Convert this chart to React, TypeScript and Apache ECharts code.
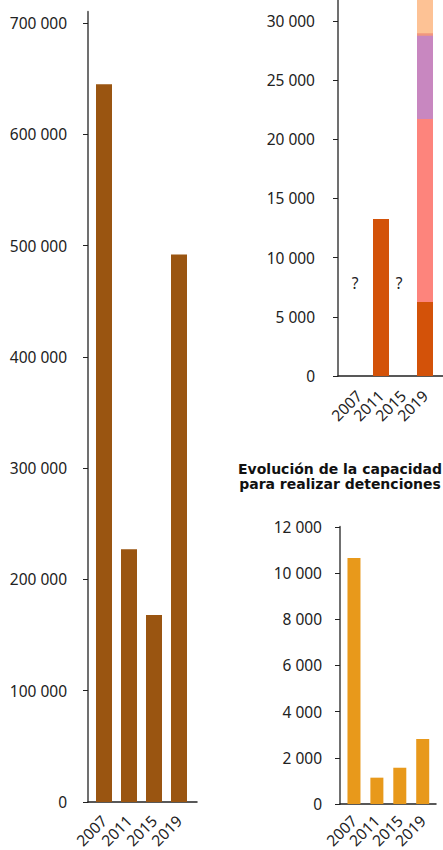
import React, { useEffect, useRef } from 'react';
import * as echarts from 'echarts';

// ---- data ----
const years = ['2007', '2011', '2015', '2019'];
const yearIndex = [0, 1, 2, 3];

// left panel
const leftValues = [645000, 227000, 168000, 492000];
const leftTicks = [0, 100000, 200000, 300000, 400000, 500000, 600000, 700000];

// top-right panel (stacked segments, bottom to top)
const segDark = [0, 13250, 0, 6250];
const segSalmon = [0, 0, 0, 15450];
const segPurple = [0, 0, 0, 7040];
const segThin = [0, 0, 0, 200];
const segPeach = [0, 0, 0, 3500];
const stackTicks = [0, 5000, 10000, 15000, 20000, 25000, 30000];
const unknownIdx = [0, 2];
const unknownLabel = '?';
const unknownY = 7850;

// bottom-right panel
const detentionTitle = 'Evolución de la capacidad\npara realizar detenciones';
const detentionValues = [10650, 1140, 1570, 2810];
const detentionTicks = [0, 2000, 4000, 6000, 8000, 10000, 12000];

// ---- styles ----
const FONT = "'Noto Sans', 'Open Sans', sans-serif";
const TITLE_FONT = "'DejaVu Sans', Verdana, sans-serif";
const TXT = '#222';
const segColors = ['#D35209', '#FD847C', '#C887C0', '#F1977F', '#FDC295'];

const fmt = (v: number) => String(Math.round(v)).replace(/\B(?=(\d{3})+(?!\d))/g, ' ');

function xAxisCfg(
  gridIndex: number,
  min: number,
  max: number,
  labelIdx: number[],
  margin: number,
  showLine = true
) {
  return {
    type: 'value',
    gridIndex,
    min,
    max,
    axisLine: { show: showLine, onZero: false, lineStyle: { color: '#222', width: 1.5 } },
    axisTick: { show: false },
    splitLine: { show: false },
    axisLabel: {
      customValues: labelIdx,
      formatter: (v: number) => years[Math.round(v)] ?? '',
      rotate: 45,
      margin,
      color: TXT,
      fontSize: 15.5,
      fontFamily: FONT,
      hideOverlap: false,
      showMinLabel: true,
      showMaxLabel: true,
    },
  };
}

function yAxisCfg(gridIndex: number, max: number, margin: number, ticks: number[]) {
  return {
    type: 'value',
    gridIndex,
    min: 0,
    max,
    axisLine: { show: true, onZero: false, lineStyle: { color: '#707070', width: 2 } },
    axisTick: { show: true, length: 5, customValues: ticks, lineStyle: { color: '#222', width: 1 } },
    splitLine: { show: false },
    axisLabel: {
      customValues: ticks,
      color: TXT,
      fontSize: 15.5,
      fontFamily: FONT,
      margin,
      formatter: (v: number) => fmt(v),
    },
  };
}

export default function App() {
  const ref = useRef<HTMLDivElement>(null);

  useEffect(() => {
    if (!ref.current) return;
    const chart = echarts.init(ref.current, undefined, { renderer: 'svg' });

    const segs = [segDark, segSalmon, segPurple, segThin, segPeach];
    const cum = segs.map((_, k) =>
      yearIndex.map((i) => segs.slice(0, k + 1).reduce((s, a) => s + a[i], 0))
    );

    const stackSeries: any[] = [];
    for (let k = segs.length - 1; k >= 0; k--) {
      stackSeries.push({
        type: 'bar',
        xAxisIndex: 1,
        yAxisIndex: 1,
        barWidth: 16,
        barGap: '-100%',
        itemStyle: { color: segColors[k] },
        data: yearIndex.map((i) => [i, k > 0 && segs[k][i] === 0 ? null : cum[k][i]]),
        ...(k === 0
          ? {
              markPoint: {
                symbol: 'circle',
                symbolSize: 0,
                label: {
                  show: true,
                  formatter: unknownLabel,
                  color: TXT,
                  fontSize: 15.5,
                  fontFamily: FONT,
                  position: 'inside',
                  offset: [-4, 0],
                },
                data: unknownIdx.map((i) => ({ coord: [i, unknownY] })),
              },
            }
          : {}),
      });
    }

    const gridBase = { outerBoundsMode: 'none', containLabel: false };
    const evenIdx = yearIndex.filter((i) => i % 2 === 0);
    const oddIdx = yearIndex.filter((i) => i % 2 === 1);

    chart.setOption({
      animation: false,
      grid: [
        { ...gridBase, left: 88, top: 11.8, width: 109, height: 790.2 },
        { ...gridBase, left: 338, top: -38.4, width: 106.8, height: 414.4 },
        { ...gridBase, left: 340, top: 526.8, width: 96, height: 277.2 },
      ],
      xAxis: [
        xAxisCfg(0, -0.64, 3.72, yearIndex, 16),
        xAxisCfg(1, -0.955, 3.9, evenIdx, 17),
        xAxisCfg(2, -0.61, 3.58, yearIndex, 14),
        { ...xAxisCfg(1, -0.955, 3.9, oddIdx, 17, false), position: 'bottom' },
      ],
      yAxis: [
        yAxisCfg(0, 710000, 21, leftTicks),
        yAxisCfg(1, 35000, 23, stackTicks),
        yAxisCfg(2, 12000, 18, detentionTicks),
      ],
      graphic: [
        {
          type: 'text',
          x: 340,
          y: 461,
          style: {
            text: detentionTitle,
            align: 'center',
            verticalAlign: 'top',
            fontSize: 14,
            fontWeight: 'bold',
            fontFamily: TITLE_FONT,
            lineHeight: 15,
            fill: '#111',
          },
        },
      ],
      series: [
        {
          type: 'bar',
          xAxisIndex: 0,
          yAxisIndex: 0,
          barWidth: 16,
          itemStyle: { color: '#9A5511' },
          data: yearIndex.map((i) => [i, leftValues[i]]),
        },
        ...stackSeries,
        {
          type: 'bar',
          xAxisIndex: 2,
          yAxisIndex: 2,
          barWidth: 13,
          itemStyle: { color: '#E8991B' },
          data: yearIndex.map((i) => [i, detentionValues[i]]),
        },
      ],
    });

    return () => chart.dispose();
  }, []);

  return (
    <div
      ref={ref}
      style={{ position: 'fixed', left: 0, top: 0, width: 443, height: 850, background: '#fff' }}
    />
  );
}
